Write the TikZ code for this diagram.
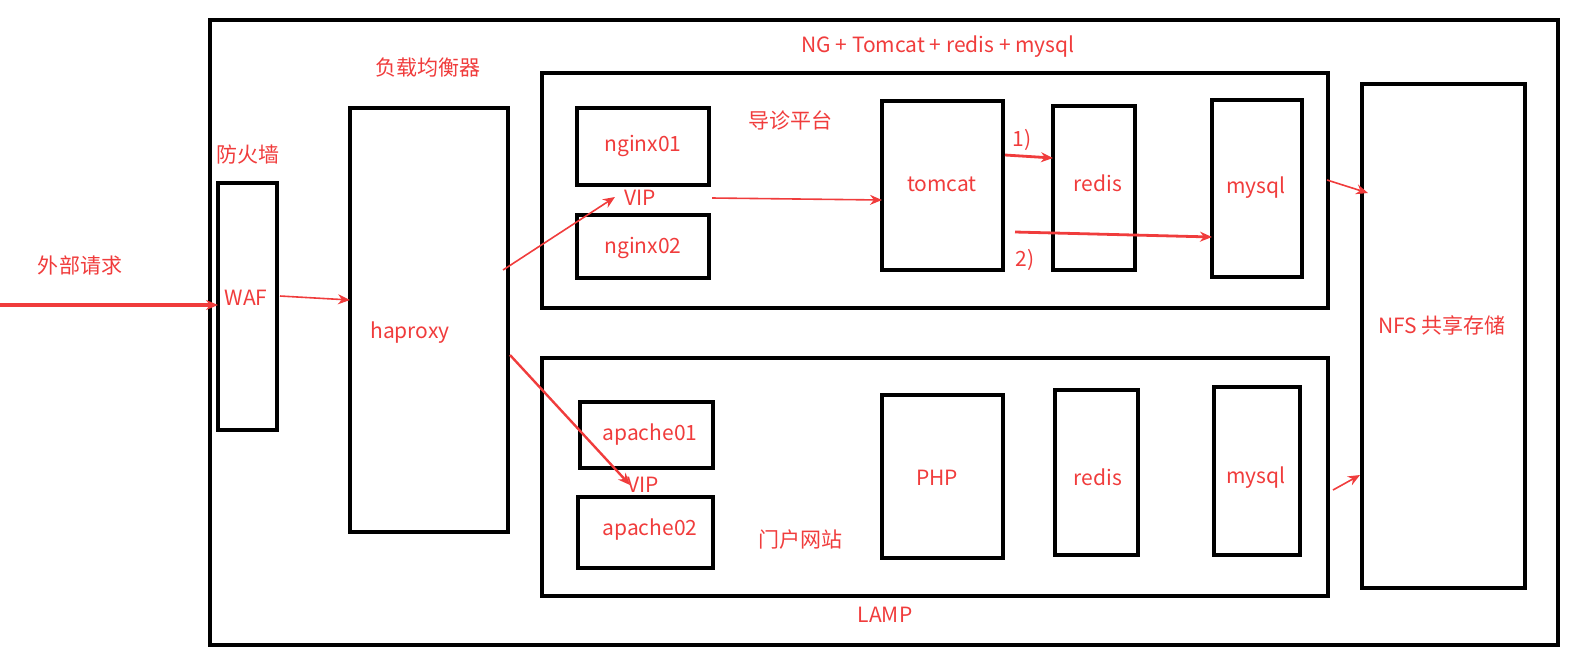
\documentclass[tikz,border=0pt]{standalone}
\usepackage{fontspec}
\setmainfont{Noto Sans CJK SC}
\usetikzlibrary{arrows.meta}
\definecolor{rd}{RGB}{240,60,60}
\begin{document}
\begin{tikzpicture}[x=0.5pt,y=-0.5pt,
 bx/.style={draw=black,line width=2.4pt},
 t/.style={text=rd,font=\fontsize{10.5}{12}\selectfont,inner sep=0pt},
 ar/.style={draw=rd,line width=0.8pt,-{Stealth[length=6pt,width=5pt]}}]
\useasboundingbox (0,0) rectangle (1574,671);
\draw[bx] (210,20) rectangle (1558,645);
\draw[bx] (218,183) rectangle (277,430);
\node[t] (waf) at (246,298) {WAF};
\draw[bx] (350,108) rectangle (508,532);
\node[t] (hap) at (410,333) {haproxy};
\draw[bx] (542,73) rectangle (1328,308);
\draw[bx] (542,358) rectangle (1328,596);
\draw[bx] (577,108) rectangle (709,185);
\draw[bx] (577,215) rectangle (709,278);
\draw[bx] (882,101) rectangle (1003,270);
\draw[bx] (1053,106) rectangle (1135,270);
\draw[bx] (1212,100) rectangle (1302,277);
\draw[bx] (580,402) rectangle (713,468);
\draw[bx] (578,497) rectangle (713,568);
\draw[bx] (882,395) rectangle (1003,558);
\draw[bx] (1055,390) rectangle (1138,555);
\draw[bx] (1214,387) rectangle (1300,555);
\draw[bx] (1362,84) rectangle (1525,588);
\node[t] (n1) at (643,146) {nginx01};
\node[t] (n2) at (643,248) {nginx02};
\node[t] (tc) at (942,184) {tomcat};
\node[t] (rd1) at (1098,183) {redis};
\node[t] (my1) at (1256,188) {mysql};
\node[t] (a1) at (650,435) {apache01};
\node[t] (a2) at (650,530) {apache02};
\node[t] (php) at (937,478) {PHP};
\node[t] (rd2) at (1098,477) {redis};
\node[t] (my2) at (1256,478) {mysql};
\node[t] (nfs) at (1442,325) {NFS 共享存储};
\node[t] at (80,265) {外部请求};
\node[t] at (248,155) {防火墙};
\node[t] at (428,68) {负载均衡器};
\node[t] at (938,47) {NG + Tomcat + redis + mysql};
\node[t] at (790,120) {导诊平台};
\node[t] (vip1) at (640,198) {VIP};
\node[t] (vip2) at (643,485) {VIP};
\node[t] at (800,540) {门户网站};
\node[t] at (885,615) {LAMP};
\node[t] at (1022,140) {1)};
\node[t] at (1025,260) {2)};
\coordinate (src) at (0,305);
\draw[ar,line width=1.6pt] (src) -- (218,305);
\draw[ar] (280,296) -- (350,300);
\draw[ar] (503,270) -- (615,197);
\draw[ar] (712,198) -- (882,200);
\draw[ar,line width=1.4pt] (1005,155) -- (1053,158);
\draw[ar,line width=1.4pt] (1015,232) -- (1212,237);
\draw[ar] (1327,180) -- (1368,193);
\draw[ar] (1333,490) -- (1360,475);
\draw[ar,line width=1.2pt] (510,355) -- (630,485);
\end{tikzpicture}
\end{document}
